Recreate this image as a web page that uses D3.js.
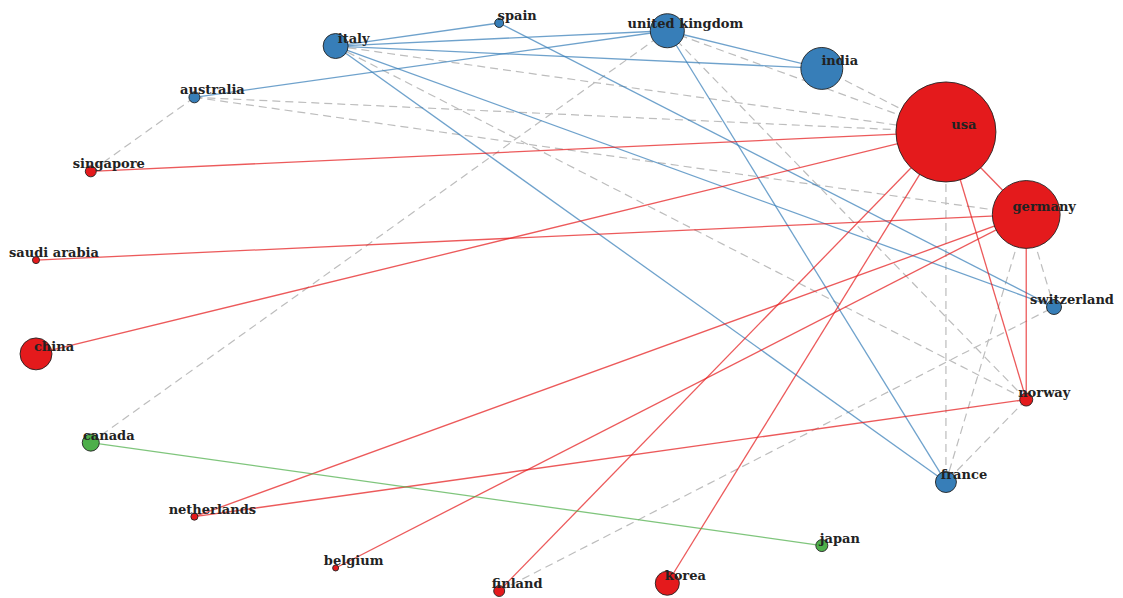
<!DOCTYPE html>
<html>
<head>
<meta charset="utf-8">
<script src="https://cdn.jsdelivr.net/npm/d3@7"></script>
<style>
  html, body { margin: 0; padding: 0; background: #fff; }
  svg { display: block; }
  .label { font-family: "DejaVu Serif", serif; font-weight: bold; font-size: 13px; fill: #222; }
</style>
</head>
<body>
<svg id="chart" width="1123" height="598"></svg>
<script>
'use strict';

// nodes, in the order of the circle layout (clockwise from the right)
var names = ["switzerland", "norway", "france", "japan", "korea", "finland", "belgium",
  "netherlands", "canada", "china", "saudi arabia", "singapore", "australia", "italy",
  "spain", "united kingdom", "india", "usa", "germany"];
var clusters = ["B", "A", "B", "C", "A", "A", "A", "A", "C", "A", "A", "A", "B", "B",
  "B", "B", "B", "A", "A"];
var weights = [2.25, 1.7, 4.4, 1.44, 5.8, 1.2, 0.36, 0.5, 2.9, 10.2, 0.5, 1.2, 1.2, 6.25,
  0.8, 11.6, 17.6, 100, 46];

// links
var linkFrom = ["italy", "italy", "italy", "italy", "italy", "australia", "united kingdom",
  "united kingdom", "spain", "singapore", "saudi arabia", "china", "netherlands", "netherlands",
  "belgium", "finland", "korea", "usa", "usa", "germany", "canada",
  "australia", "australia", "australia", "italy", "italy", "united kingdom", "united kingdom",
  "india", "canada", "usa", "germany", "germany", "norway", "finland"];
var linkTo = ["spain", "united kingdom", "india", "switzerland", "france", "united kingdom", "india",
  "france", "switzerland", "usa", "germany", "usa", "germany", "norway",
  "germany", "usa", "usa", "germany", "norway", "norway", "japan",
  "singapore", "usa", "germany", "usa", "norway", "usa", "norway",
  "usa", "united kingdom", "france", "france", "switzerland", "france", "switzerland"];

var colors = {A: "#e41a1c", B: "#377eb8", C: "#4daf4a"};

var width = 1123, height = 598;
var svg = d3.select("#chart");

var n = names.length;
var nodes = names.map(function (d, i) {
  var ang = 2 * Math.PI * i / n;
  return {name: d, cluster: clusters[i], w: weights[i], cx: Math.cos(ang), cy: Math.sin(ang)};
});
var byName = {};
nodes.forEach(function (d) { byName[d.name] = d; });

// layout rescaled to the plot box, like igraph does
var x = d3.scaleLinear().domain(d3.extent(nodes, function (d) { return d.cx; })).range([36, 1054]);
var y = d3.scaleLinear().domain(d3.extent(nodes, function (d) { return d.cy; })).range([23, 591]);
var r = d3.scaleSqrt().domain([0, 100]).range([0, 50]);

var links = linkFrom.map(function (s, i) {
  var a = byName[s], b = byName[linkTo[i]];
  return {source: a, target: b, same: a.cluster === b.cluster};
});

// dashed links between clusters first, coloured ones on top
svg.append("g")
  .selectAll("line")
  .data(links.filter(function (d) { return !d.same; }))
  .enter().append("line")
  .attr("x1", function (d) { return x(d.source.cx); })
  .attr("y1", function (d) { return y(d.source.cy); })
  .attr("x2", function (d) { return x(d.target.cx); })
  .attr("y2", function (d) { return y(d.target.cy); })
  .attr("stroke", "#bdbdbd")
  .attr("stroke-width", 1.2)
  .attr("stroke-dasharray", "8,5");

svg.append("g")
  .selectAll("line")
  .data(links.filter(function (d) { return d.same; }))
  .enter().append("line")
  .attr("x1", function (d) { return x(d.source.cx); })
  .attr("y1", function (d) { return y(d.source.cy); })
  .attr("x2", function (d) { return x(d.target.cx); })
  .attr("y2", function (d) { return y(d.target.cy); })
  .attr("stroke", function (d) { return colors[d.source.cluster]; })
  .attr("stroke-opacity", 0.72)
  .attr("stroke-width", 1.3);

svg.append("g")
  .selectAll("circle")
  .data(nodes)
  .enter().append("circle")
  .attr("cx", function (d) { return x(d.cx); })
  .attr("cy", function (d) { return y(d.cy); })
  .attr("r", function (d) { return r(d.w); })
  .attr("fill", function (d) { return colors[d.cluster]; })
  .attr("stroke", "#222")
  .attr("stroke-width", 0.9);

svg.append("g")
  .selectAll("text")
  .data(nodes)
  .enter().append("text")
  .attr("class", "label")
  .attr("x", function (d) { return x(d.cx) + 18; })
  .attr("y", function (d) { return y(d.cy) - 3; })
  .attr("text-anchor", "middle")
  .text(function (d) { return d.name; });
</script>
</body>
</html>
